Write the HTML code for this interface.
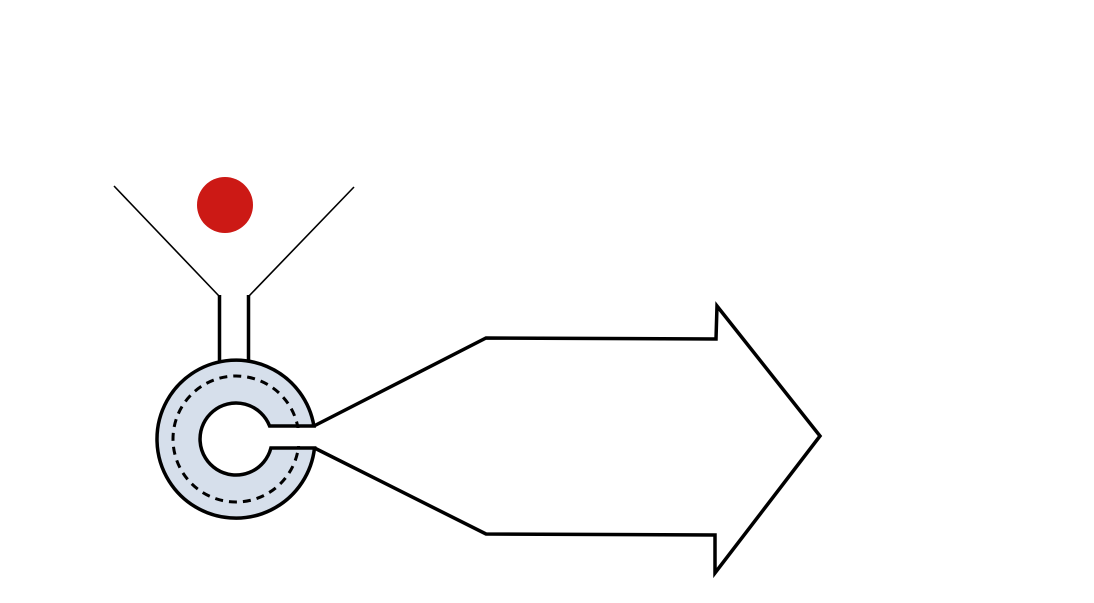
<!DOCTYPE html>
<html><head><meta charset="utf-8"><style>html,body{margin:0;padding:0;background:#fff}svg{display:block}</style></head>
<body>
<svg width="1094" height="603" viewBox="0 0 1094 603" xmlns="http://www.w3.org/2000/svg">
<line x1="114" y1="186" x2="219" y2="296" stroke="#000" stroke-width="1.6"/>
<line x1="354" y1="187" x2="249" y2="296" stroke="#000" stroke-width="1.6"/>
<line x1="219.5" y1="295" x2="219.5" y2="362" stroke="#000" stroke-width="3.5"/>
<line x1="248.5" y1="295" x2="248.5" y2="362" stroke="#000" stroke-width="3.5"/>
<circle cx="225" cy="205" r="28" fill="#cc1915"/>
<path d="M313.9,426 A79,79 0 1 0 314.5,448 L270.9,448 A36,36 0 1 1 269.6,426 Z" fill="#d6dfeb" stroke="#000" stroke-width="3.5" stroke-linejoin="miter"/>
<circle cx="236" cy="439" r="63" fill="none" stroke="#000" stroke-width="3" stroke-dasharray="8,6"/>
<rect x="272" y="428" width="44" height="18" fill="#fff"/>
<path d="M313.9,426 L486,338 L716,339 L717,306 L820,436 L715,573 L715,535 L486,534 L314.5,448" fill="none" stroke="#000" stroke-width="3.5" stroke-linejoin="miter"/>
</svg>
</body></html>
